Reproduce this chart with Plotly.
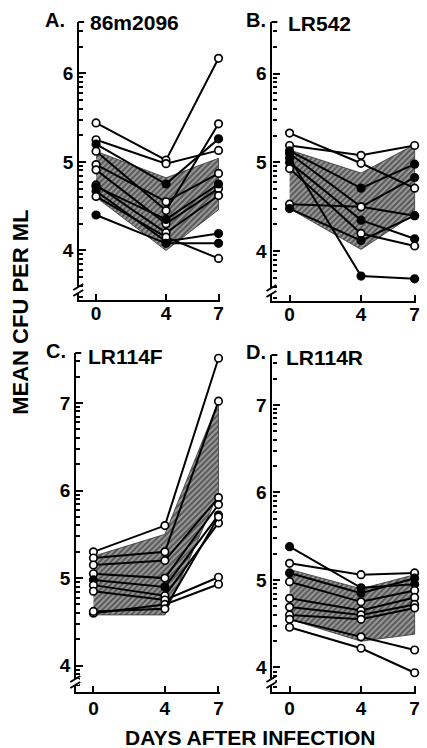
import numpy as np
import plotly.graph_objects as go

W, H = 427, 748
days = [0, 4, 7]

# ---- data (log10 mean CFU per ml) ----
A_lines = [[5.44, 5.02, 6.17], [5.25, 4.98, 5.13], [5.20, 4.75, 5.26], [5.12, 4.45, 5.43],
           [4.97, 4.55, 4.87], [4.91, 4.30, 4.70], [4.74, 4.20, 4.62], [4.72, 4.35, 4.75],
           [4.67, 4.10, 4.19], [4.61, 4.15, 3.91], [4.40, 4.08, 4.08]]
A_filled = [False, False, True, False, False, False, False, True, True, False, True]
A_band_low = [4.60, 4.00, 4.46]
A_band_high = [5.12, 4.82, 5.04]

B_lines = [[5.33, 4.99, 4.71], [5.19, 5.08, 5.19], [5.13, 4.71, 4.98], [5.10, 4.50, 4.83],
           [5.05, 3.72, 3.69], [5.00, 4.35, 4.14], [4.93, 4.20, 4.06], [4.53, 4.50, 4.40],
           [4.48, 4.12, 4.40]]
B_filled = [False, False, True, True, True, True, False, False, True]
B_band_low = [4.48, 4.02, 4.42]
B_band_high = [5.14, 4.88, 5.20]

C_lines = [[5.30, 5.60, 7.51], [5.23, 5.30, 7.02], [5.15, 5.20, 5.92], [5.05, 5.00, 5.84],
           [4.98, 4.90, 5.72], [4.92, 4.80, 5.63], [4.85, 4.75, 5.01], [4.60, 4.70, 4.93],
           [4.62, 4.65, 5.70]]
C_filled = [False, False, False, False, True, False, False, False, False]
C_band_low = [4.58, 4.58, 5.97]
C_band_high = [5.25, 5.50, 7.02]

D_lines = [[5.38, 4.91, 4.95], [5.19, 5.06, 5.08], [5.08, 4.85, 5.02], [4.98, 4.75, 4.88],
           [4.79, 4.65, 4.80], [4.69, 4.60, 4.72], [4.60, 4.55, 4.68], [4.55, 4.35, 4.20],
           [4.46, 4.22, 3.94]]
D_filled = [True, False, True, False, False, False, False, False, False]
D_band_low = [4.55, 4.30, 4.38]
D_band_high = [5.12, 4.90, 5.06]

panel_letters = ["A.", "B.", "C.", "D."]
strain_names = ["86m2096", "LR542", "LR114F", "LR114R"]

panels = [
    (A_lines, A_filled, A_band_low, A_band_high),
    (B_lines, B_filled, B_band_low, B_band_high),
    (C_lines, C_filled, C_band_low, C_band_high),
    (D_lines, D_filled, D_band_low, D_band_high),
]

# pixel boxes: left, right, top, bottom
boxes = [(80, 222, 22, 300), (275, 420, 22, 301), (77, 222, 353, 692), (275, 420, 355, 692)]
yranges = [[3.44, 6.58], [3.44, 6.58], [3.70, 7.57], [3.72, 7.57]]
xrange_ = [-0.96, 7.08]
letter_pos = [(68, 20), (271, 20), (69, 351), (271, 352)]
name_pos = [(89, 22), (289, 23), (87, 356), (287, 357)]
label_standoff = [-5, -5, -2, -2]

FONT = "Liberation Sans"
fig = go.Figure()

for i, (lines, filled, blo, bhi) in enumerate(panels):
    ax = "" if i == 0 else str(i + 1)
    xa, ya = "x" + ax, "y" + ax
    # hatched band
    fig.add_trace(go.Scatter(
        x=days + days[::-1], y=bhi + blo[::-1], mode="lines", fill="toself",
        line=dict(width=0.8, color="#333"),
        fillcolor="#8c8c8c",
        fillpattern=dict(shape="/", fgcolor="#111", bgcolor="#9a9a9a", size=4, solidity=0.5),
        xaxis=xa, yaxis=ya, showlegend=False, hoverinfo="skip"))
    for ln, f in zip(lines, filled):
        fig.add_trace(go.Scatter(
            x=days, y=ln, mode="lines+markers",
            line=dict(color="black", width=2),
            marker=dict(symbol="circle", size=7.5, color="black" if f else "white",
                        line=dict(color="black", width=1.7)),
            cliponaxis=False, xaxis=xa, yaxis=ya, showlegend=False))
    L, R, T, B = boxes[i]
    lo, hi = yranges[i]
    dom_x = [L / W, R / W]
    dom_y = [1 - B / H, 1 - T / H]
    major = [v for v in range(4, 8) if lo < v < hi]
    minor = []
    for dec in range(3, 8):
        for k in range(2, 10):
            v = dec + np.log10(k)
            if lo + 0.03 < v < hi:
                minor.append(v)
    fig.layout["xaxis" + ax] = dict(
        domain=dom_x, range=xrange_, anchor=ya, tickvals=days, ticktext=[str(d) for d in days],
        ticks="inside", ticklen=6, tickwidth=2, tickcolor="black", ticklabelstandoff=label_standoff[i],
        showline=True, linecolor="black", linewidth=2.2, showgrid=False, zeroline=False,
        tickfont=dict(family=FONT, size=19, color="black", weight="bold"))
    fig.layout["yaxis" + ax] = dict(
        domain=dom_y, range=[lo, hi], anchor=xa, tickvals=major, ticktext=[str(v) for v in major],
        ticks="inside", ticklen=7, tickwidth=2, tickcolor="black",
        minor=dict(tickmode="array", tickvals=minor, ticks="inside", ticklen=4, tickwidth=1.5, tickcolor="black"),
        showline=True, linecolor="black", linewidth=2.2, showgrid=False, zeroline=False,
        tickfont=dict(family=FONT, size=19, color="black", weight="bold"))
    # panel labels
    lx, ly = letter_pos[i]
    fig.add_annotation(x=lx / W, y=1 - ly / H, xref="paper", yref="paper", text="<b>" + panel_letters[i] + "</b>",
                       showarrow=False, xanchor="right", yanchor="middle",
                       font=dict(family=FONT, size=20, color="black"))
    nx, ny = name_pos[i]
    fig.add_annotation(x=nx / W, y=1 - ny / H, xref="paper", yref="paper", text="<b>" + strain_names[i] + "</b>",
                       showarrow=False, xanchor="left", yanchor="middle",
                       font=dict(family=FONT, size=21, color="black"))
    # top cap of the y axis
    fig.add_shape(type="line", xref="paper", yref="paper", x0=(L - 1) / W, x1=(L + 5) / W,
                  y0=1 - T / H, y1=1 - T / H, line=dict(color="black", width=2))
    # axis break mark
    yb = B - 10
    fig.add_shape(type="rect", xref="paper", yref="paper", x0=(L - 3) / W, x1=(L + 3) / W,
                  y0=1 - (yb + 3) / H, y1=1 - (yb - 3) / H, fillcolor="white", line=dict(width=0))
    for dy in (-3, 3):
        fig.add_shape(type="line", xref="paper", yref="paper", x0=(L - 6) / W, x1=(L + 4) / W,
                      y0=1 - (yb + dy + 3) / H, y1=1 - (yb + dy - 3) / H,
                      line=dict(color="black", width=2))

fig.add_annotation(x=20 / W, y=1 - 312 / H, xref="paper", yref="paper", text="<b>MEAN CFU PER ML</b>",
                   textangle=-90, showarrow=False, xanchor="center", yanchor="middle",
                   font=dict(family=FONT, size=22, color="black"))
fig.add_annotation(x=252 / W, y=1 - 737 / H, xref="paper", yref="paper", text="<b>DAYS AFTER INFECTION</b>",
                   showarrow=False, xanchor="center", yanchor="middle",
                   font=dict(family=FONT, size=21, color="black"))

fig.update_layout(width=W, height=H, margin=dict(l=0, r=0, t=0, b=0),
                  paper_bgcolor="white", plot_bgcolor="white", showlegend=False)
fig.write_html("out.html", config={"displayModeBar": False},
               post_script="document.body.style.margin='0px';document.body.style.overflow='hidden';")
